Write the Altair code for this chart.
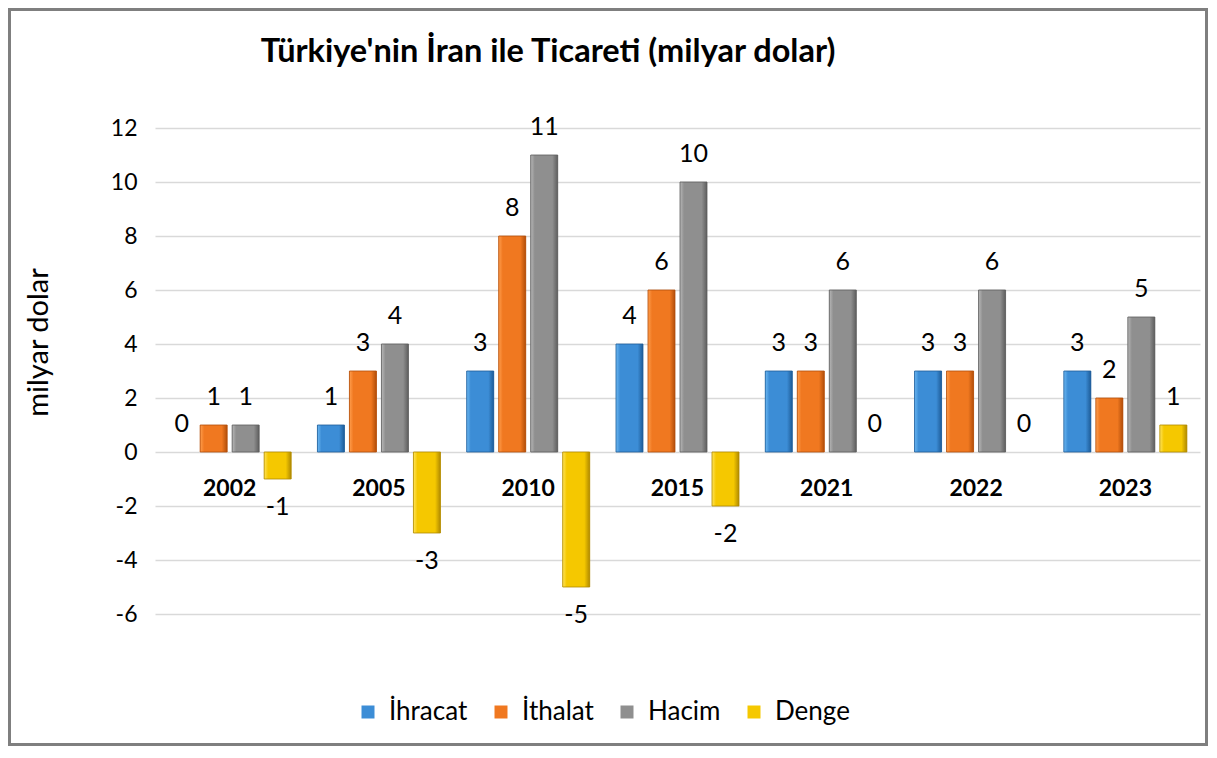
import altair as alt
import pandas as pd

years = ["2002", "2005", "2010", "2015", "2021", "2022", "2023"]
series = ["İhracat", "İthalat", "Hacim", "Denge"]
ihracat = [0, 1, 3, 4, 3, 3, 3]
ithalat = [1, 3, 8, 6, 3, 3, 2]
hacim = [1, 4, 11, 10, 6, 6, 5]
denge = [-1, -3, -5, -2, 0, 0, 1]
colors = ["#3C8DD6", "#F07820", "#8F8F8F", "#F5C800"]
light = ["#6CB8F2", "#FF9E4E", "#B8B8B8", "#FFE45C"]
dark = ["#1E5C98", "#B24E0A", "#5E5E5E", "#B08A00"]

rows = []
for i, y in enumerate(years):
    for s, vals in zip(series, [ihracat, ithalat, hacim, denge]):
        rows.append({"year": y, "series": s, "value": vals[i], "label": str(vals[i])})
df = pd.DataFrame(rows)

FONT = "Lato"
W, H = 1045, 486

x_enc = alt.X("year:N", sort=years, axis=None,
              scale=alt.Scale(paddingInner=0.1426, paddingOuter=0.0713))
xo_enc = alt.XOffset("series:N", sort=series,
                     scale=alt.Scale(domain=series, paddingInner=0.15625, paddingOuter=0.078))
y_enc = alt.Y("value:Q",
              scale=alt.Scale(domain=[-6, 12], nice=False, zero=False),
              axis=alt.Axis(values=list(range(-6, 13, 2)), title="milyar dolar",
                            labelExpr="toString(datum.value)",
                            domain=False, ticks=False, tickSize=0, labelPadding=18,
                            labelFont=FONT, labelFontSize=23, labelColor="#000000",
                            gridColor="#D9D9D9", gridWidth=1.5,
                            titleFont=FONT, titleFontSize=29, titleFontWeight="normal",
                            titleColor="#000000", titleX=-117, titleY=214,
                            titleAlign="center", titleBaseline="middle", titleAngle=270))

base = alt.Chart(df)
nonzero = base.transform_filter(alt.datum.value != 0)

bars_legend = nonzero.mark_bar(strokeWidth=0).encode(
    x=x_enc, xOffset=xo_enc, y=y_enc, y2=alt.datum(0),
    color=alt.Color("series:N",
                    scale=alt.Scale(domain=series, range=colors),
                    legend=alt.Legend(orient="none", legendX=200, legendY=571,
                                      direction="horizontal", title=None,
                                      symbolType="square", symbolSize=169,
                                      symbolStrokeWidth=0, labelFont=FONT,
                                      labelFontSize=26, labelColor="#000000",
                                      columnPadding=20, labelOffset=8, padding=0)),
)

grad_layers = []
for s, c, l, d in zip(series, colors, light, dark):
    g = alt.LinearGradient(gradient="linear", x1=0, y1=0, x2=1, y2=0,
                           stops=[alt.GradientStop(offset=0, color=l),
                                  alt.GradientStop(offset=0.15, color=c),
                                  alt.GradientStop(offset=0.8, color=c),
                                  alt.GradientStop(offset=1, color=d)])
    grad_layers.append(
        nonzero.transform_filter(alt.datum.series == s).mark_bar(
            fill=g, stroke=d, strokeWidth=1, strokeOpacity=0.8
        ).encode(x=x_enc, xOffset=xo_enc, y=alt.Y("value:Q"), y2=alt.datum(0))
    )

labels_pos = base.transform_filter(alt.datum.value >= 0).mark_text(
    font=FONT, fontSize=25, color="#000000", baseline="middle", dy=-28
).encode(x=x_enc, xOffset=xo_enc, y=alt.Y("value:Q"), text=alt.Text("label:N"))

labels_neg = base.transform_filter(alt.datum.value < 0).mark_text(
    font=FONT, fontSize=25, color="#000000", baseline="middle", dy=28
).encode(x=x_enc, xOffset=xo_enc, y=alt.Y("value:Q"), text=alt.Text("label:N"))

year_df = pd.DataFrame({"year": years})
year_labels = alt.Chart(year_df).mark_text(
    font=FONT, fontSize=23, fontWeight="bold", color="#000000", baseline="middle"
).encode(x=x_enc, y=alt.datum(-1.37), text="year:N")

one = pd.DataFrame({"t": ["Türkiye'nin İran ile Ticareti (milyar dolar)"]})
border = alt.Chart(one).mark_rect(fill="#FFFFFF", fillOpacity=0, stroke="#7F7F7F", strokeWidth=3).encode(
    x=alt.value(-145.5), x2=alt.value(1051.5), y=alt.value(-118.5), y2=alt.value(616.5))
title = alt.Chart(one).mark_text(
    font=FONT, fontSize=32.5, fontWeight="bold", color="#000000", baseline="middle", align="center"
).encode(x=alt.value(393), y=alt.value(-76), text="t:N")

chart = alt.layer(border, bars_legend, *grad_layers, labels_pos, labels_neg, year_labels, title).properties(
    width=W, height=H, padding=0, background="#FFFFFF"
).configure_view(stroke=None)

chart.save("out.html", embed_options={"renderer": "svg", "actions": False})
